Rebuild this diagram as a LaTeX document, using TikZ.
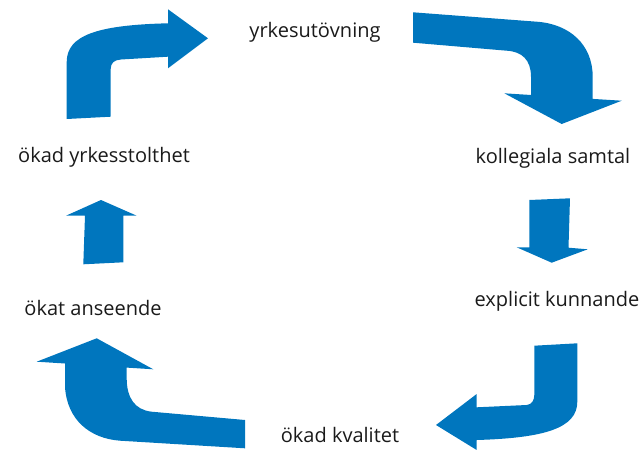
\documentclass[tikz,border=0pt]{standalone}
\usepackage{fontspec}
\setmainfont{Open Sans}
\definecolor{cycleblue}{RGB}{0,118,190}
\definecolor{labeltext}{RGB}{26,26,26}
\begin{document}
\begin{tikzpicture}[x=1pt,y=-1pt,
  bigarrow/.style={fill=cycleblue,draw=none},
  steplabel/.style={text=labeltext,font=\fontsize{20}{24}\selectfont,inner sep=0pt,anchor=base}]
\useasboundingbox (0,0) rectangle (643,450);

% labels of the cycle
\node[steplabel] (yrke) at (315,37) {yrkesutövning};
\node[steplabel] (koll) at (553,163) {kollegiala samtal};
\node[steplabel] (expl) at (557,306) {explicit kunnande};
\node[steplabel] (kval) at (340,442) {ökad kvalitet};
\node[steplabel] (ansn) at (93,315) {ökat anseende};
\node[steplabel] (stolt) at (104,162) {ökad yrkesstolthet};

% up, then right
\fill[bigarrow] (66.7,119) -- (66.7,62) .. controls (66.7,35) and (98,25) .. (168,23.3)
  -- (168,9.3) -- (208,38.3) -- (168,68.3) -- (168,56.7)
  -- (121,59.5) .. controls (114,60) and (110.7,63) .. (110.7,69)
  -- (110.7,116.7) -- cycle;

% right, then down
\fill[bigarrow] (413,12.3) -- (536.7,21.7) .. controls (570,24) and (592.7,45) .. (592.7,76.7)
  -- (592.7,98.9) -- (621.7,100.7) -- (561.7,124) -- (504.3,93.3) -- (531,95)
  -- (531,76.7) .. controls (531,60) and (522,51.5) .. (506.7,50.7)
  -- (413,42.7) -- cycle;

% straight down
\fill[bigarrow] (529.3,200) -- (570,198.3) -- (568.5,247.7) -- (587.7,249.3)
  -- (551.7,262.7) -- (516.7,247.3) -- (529.3,247.3) -- cycle;

% down, then left
\fill[bigarrow] (534.3,345.7) -- (577.3,343.3) -- (577.3,401.7)
  .. controls (577.3,428) and (545,438) .. (476.7,440)
  -- (476.7,450) -- (436,425) -- (476.7,394) -- (476.7,407.3)
  -- (526.7,405) .. controls (532,404.5) and (534.3,400) .. (534.3,395) -- cycle;

% left, then up
\fill[bigarrow] (245,420) -- (151.7,411.7) .. controls (135,410) and (126.7,398) .. (126.7,378.3)
  -- (126.7,367.6) -- (153.3,369.3) -- (96.7,338.3) -- (36.7,361.7) -- (65,363.5)
  -- (65,386.7) .. controls (67,420) and (90,438.5) .. (120,440.7)
  -- (245,448.3) -- cycle;

% straight up
\fill[bigarrow] (83.3,264.3) -- (123.3,262.3) -- (123.3,215.7) -- (136.7,215.7)
  -- (101,200) -- (66,215.7) -- (85,215.7) -- cycle;
\end{tikzpicture}
\end{document}
